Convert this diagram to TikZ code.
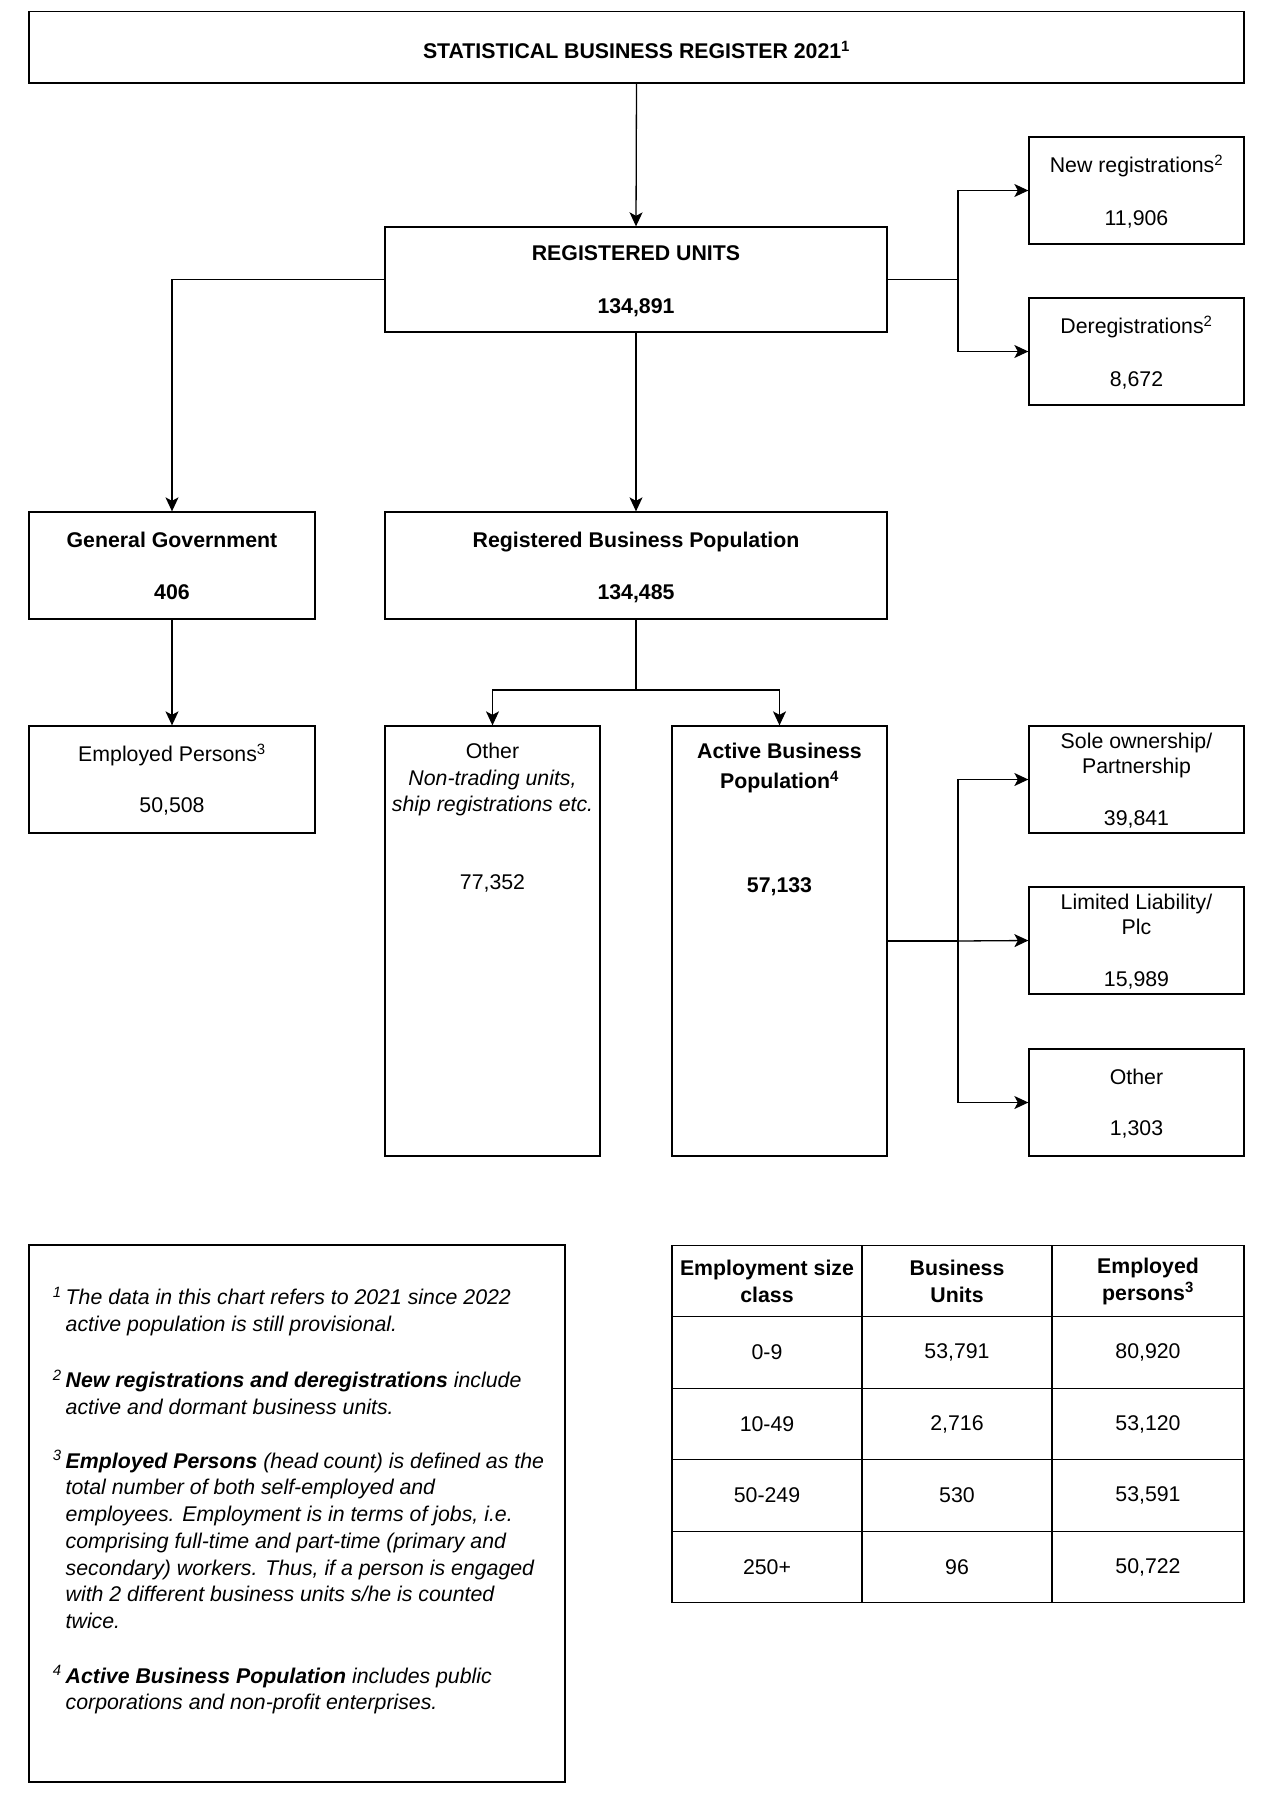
\documentclass[tikz,border=0pt]{standalone}
\usepackage{fontspec}
\setmainfont{Liberation Sans}
\usetikzlibrary{arrows.meta}
\newcommand{\toprule}{\rule{0pt}{20.3pt}}
\newcommand{\botrule}{\rule[-5pt]{0pt}{5pt}}
\begin{document}
\begin{tikzpicture}[x=1pt,y=-1pt,
  every node/.style={font=\fontsize{21.3}{25.3}\selectfont},
  boldfont/.style={font=\fontsize{21.3}{25.3}\selectfont\bfseries},
  box/.style={draw=black, line width=1.3pt, inner sep=0pt, align=center},
  smallbox/.style={box, minimum width=215pt, minimum height=107pt},
  txt/.style={inner sep=0pt, align=center},
  note/.style={inner sep=0pt, align=left, anchor=north west, font=\fontsize{21.3}{26.7}\selectfont\itshape},
  cell/.style={draw=black, line width=1.3pt, inner sep=0pt, align=center, minimum height=71.5pt},
  headcell/.style={cell, font=\fontsize{21.3}{27}\selectfont\bfseries},
  link/.style={line width=1.3pt},
  arr/.style={link, -{Stealth[length=14pt,width=13pt,inset=3.5pt]}}
]
\useasboundingbox (0,0) rectangle (1281,1804);

% top
\node[box, boldfont, minimum width=1215pt, minimum height=71.5pt] (sbr) at (636.5,47.25) {\rule{0pt}{23.5pt}STATISTICAL BUSINESS REGISTER 2021\textsuperscript{1}};
\node[box, boldfont, minimum width=502pt, minimum height=105pt] (ru) at (636,279.5) {\toprule REGISTERED UNITS\\[27.5pt]134,891\botrule};
\node[smallbox] (nr) at (1136.5,190.5) {\rule{0pt}{22pt}New registrations\textsuperscript{2}\\[27pt]11,906\botrule};
\node[smallbox] (dr) at (1136.5,351.5) {\rule{0pt}{22pt}Deregistrations\textsuperscript{2}\\[27pt]8,672\botrule};

% second level
\node[box, boldfont, minimum width=286pt, minimum height=107pt] (gg) at (172,565.5) {\toprule General Government\\[26.5pt]406\botrule};
\node[box, boldfont, minimum width=502pt, minimum height=107pt] (rbp) at (636,565.5) {\toprule Registered Business Population\\[26.5pt]134,485\botrule};
\node[box, minimum width=286pt, minimum height=107pt] (ep) at (172,779.5) {\toprule Employed Persons\textsuperscript{3}\\[25.5pt]50,508\botrule};

% tall boxes
\node[box, minimum width=215pt, minimum height=430pt] (oth) at (492.5,941) {};
\node[txt, anchor=north, font=\fontsize{21.3}{26.5}\selectfont] (othtxt) at (492.5,738.6) {\rule{0pt}{20pt}Other\\\textit{Non-trading units,}\\\textit{ship registrations etc.}\\[51pt]77,352};
\node[box, minimum width=215pt, minimum height=430pt] (abp) at (779.5,941) {};
\node[txt, anchor=north, font=\fontsize{21.3}{26}\selectfont\bfseries] (abptxt) at (779.5,738.6) {\rule{0pt}{20pt}Active Business\\[4pt]Population\textsuperscript{4}\\[78pt]57,133};

% right column
\node[smallbox] (sole) at (1136.5,779.5) {\toprule Sole ownership/\\Partnership\\[26.7pt]39,841\botrule};
\node[smallbox] (ltd) at (1136.5,940.5) {\toprule Limited Liability/\\Plc\\[26.7pt]15,989\botrule};
\node[smallbox] (othr) at (1136.5,1102.5) {\toprule Other\\[26pt]1,303\botrule};

% connectors
\coordinate (j1) at (958,279.5);
\coordinate (j2) at (636,690);
\coordinate (j3) at (958,941);
\draw[arr] (sbr.south) -- (ru.north);
\draw[arr] (ru.west) -| (gg.north);
\draw[arr] (ru.south) -- (rbp.north);
\draw[link] (ru.east) -- (j1);
\draw[arr] (j1) |- (nr.west);
\draw[arr] (j1) |- (dr.west);
\draw[arr] (gg.south) -- (ep.north);
\draw[link] (rbp.south) -- (j2);
\draw[arr] (j2) -| (oth.north);
\draw[arr] (j2) -| (abp.north);
\draw[link] (abp.east) -- (j3);
\draw[arr] (j3) |- (sole.west);
\draw[arr] (j3) -- (ltd.west);
\draw[arr] (j3) |- (othr.west);

% notes
\node[box, minimum width=536pt, minimum height=537pt] (notes) at (297,1513.5) {};
\node[note] (n1) at (65.5,1284.6) {\rule{0pt}{20pt}\llap{\textsuperscript{1}\hspace{4pt}}The data in this chart refers to 2021 since 2022\\active population is still provisional.};
\node[note] (n2) at (65.5,1367.6) {\rule{0pt}{20pt}\llap{\textsuperscript{2}\hspace{4pt}}\textbf{New registrations and deregistrations} include\\active and dormant business units.};
\node[note] (n3) at (65.5,1448) {\rule{0pt}{20pt}\llap{\textsuperscript{3}\hspace{4pt}}\textbf{Employed Persons} (head count) is defined as the\\total number of both self-employed and\\employees. Employment is in terms of jobs, i.e.\\comprising full-time and part-time (primary and\\secondary) workers. Thus, if a person is engaged\\with 2 different business units s/he is counted\\twice.};
\node[note] (n4) at (65.5,1663) {\rule{0pt}{20pt}\llap{\textsuperscript{4}\hspace{4pt}}\textbf{Active Business Population} includes public\\corporations and non-profit enterprises.};

% table
\node[headcell, minimum width=190pt] (h1) at (767,1281) {Employment size\\class};
\node[headcell, minimum width=190pt] (h2) at (957,1281) {Business\\Units};
\node[headcell, minimum width=192pt] (h3) at (1148,1281) {Employed\\persons\textsuperscript{3}};
\node[cell, minimum width=190pt] (a1) at (767,1352.5) {0-9};
\node[cell, minimum width=190pt] (b1) at (957,1352.5) {53,791};
\node[cell, minimum width=192pt] (c1) at (1148,1352.5) {80,920};
\node[cell, minimum width=190pt] (a2) at (767,1424) {10-49};
\node[cell, minimum width=190pt] (b2) at (957,1424) {2,716};
\node[cell, minimum width=192pt] (c2) at (1148,1424) {53,120};
\node[cell, minimum width=190pt] (a3) at (767,1495.5) {50-249};
\node[cell, minimum width=190pt] (b3) at (957,1495.5) {530};
\node[cell, minimum width=192pt] (c3) at (1148,1495.5) {53,591};
\node[cell, minimum width=190pt] (a4) at (767,1567) {250+};
\node[cell, minimum width=190pt] (b4) at (957,1567) {96};
\node[cell, minimum width=192pt] (c4) at (1148,1567) {50,722};
\end{tikzpicture}
\end{document}
